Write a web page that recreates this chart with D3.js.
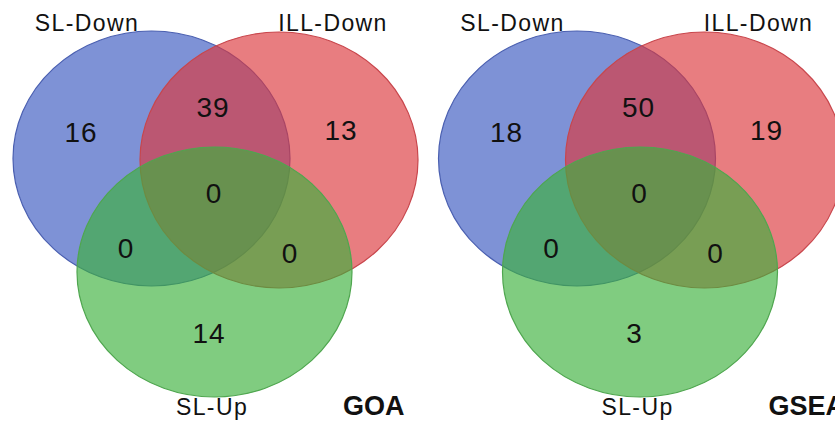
<!DOCTYPE html>
<html>
<head>
<meta charset="utf-8">
<script src="https://cdn.jsdelivr.net/npm/d3@7"></script>
<style>
  html, body { margin: 0; padding: 0; background: #fff; }
  svg { display: block; }
  text { font-family: "Liberation Sans", Arial, sans-serif; fill: #111; }
</style>
</head>
<body>
<svg id="chart" width="835" height="427"></svg>
<script>
  // Venn diagram data
  const setNames = ["SL-Down", "ILL-Down", "SL-Up"];
  const panelTitles = ["GOA", "GSEA"];
  // regions: only A, only B, only C, A&B, A&B&C, A&C, B&C
  const regionKeys = ["A", "B", "C", "AB", "ABC", "AC", "BC"];
  const goaCounts = [16, 13, 14, 39, 0, 0, 0];
  const gseaCounts = [18, 19, 3, 50, 0, 0, 0];
  const panelCounts = [goaCounts, gseaCounts];

  const setColors = ["rgb(57,88,192)", "rgb(220,55,60)", "rgb(60,177,60)"];
  const setStrokes = ["#4a5fb0", "#c8464c", "#4fa64f"];

  const svg = d3.select("#chart");
  const panelX = d3.scaleOrdinal().domain(panelTitles).range([0, 425.5]);

  // ellipse geometry within a panel
  const ellipses = [
    { cx: 151.5, cy: 158.5, rx: 138.5, ry: 127.5 },
    { cx: 279, cy: 160, rx: 139, ry: 128 },
    { cx: 214.5, cy: 272, rx: 137.5, ry: 125 }
  ];
  const countPos = {
    A: [81, 132], B: [341, 130], C: [209, 333],
    AB: [213, 107], ABC: [214, 193], AC: [126, 248], BC: [290, 253]
  };
  const setLabelPos = [[87, 31], [333, 31], [212, 415]];

  panelTitles.forEach((title, pi) => {
    const g = svg.append("g").attr("transform", `translate(${panelX(title)},0)`);

    g.selectAll("ellipse")
      .data(ellipses)
      .join("ellipse")
      .attr("cx", (d) => d.cx)
      .attr("cy", (d) => d.cy)
      .attr("rx", (d) => d.rx)
      .attr("ry", (d) => d.ry)
      .attr("fill", (d, i) => setColors[i])
      .attr("fill-opacity", 0.65)
      .attr("stroke", (d, i) => setStrokes[i])
      .attr("stroke-width", 1.2);

    const counts = panelCounts[pi];
    g.selectAll("text.count")
      .data(regionKeys.map((k, i) => ({ k, v: counts[i] })))
      .join("text")
      .attr("class", "count")
      .attr("x", (d) => countPos[d.k][0])
      .attr("y", (d) => countPos[d.k][1])
      .attr("text-anchor", "middle")
      .attr("dominant-baseline", "central")
      .attr("font-size", 28)
      .attr("letter-spacing", 1)
      .text((d) => d.v);

    g.selectAll("text.setlabel")
      .data(setNames)
      .join("text")
      .attr("class", "setlabel")
      .attr("x", (d, i) => setLabelPos[i][0])
      .attr("y", (d, i) => setLabelPos[i][1])
      .attr("text-anchor", "middle")
      .attr("font-size", 23)
      .attr("letter-spacing", 1.4)
      .text((d) => d);

    g.append("text")
      .attr("x", 343)
      .attr("y", 415)
      .attr("font-size", 27)
      .attr("font-weight", "bold")
      .text(title);
  });
</script>
</body>
</html>
